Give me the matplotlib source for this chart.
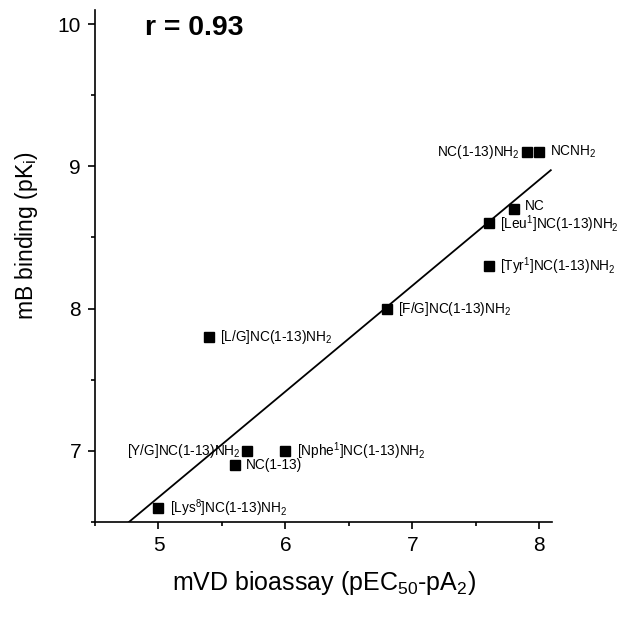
import numpy as np
import matplotlib
matplotlib.use('Agg')
from matplotlib import pyplot as plt
from matplotlib.ticker import MultipleLocator

plt.rcParams['font.family'] = ['Liberation Sans', 'DejaVu Sans']
plt.rcParams['mathtext.default'] = 'regular'

# 化合物名称和数据
names = ['NC(1-13)NH$_2$', 'NCNH$_2$', 'NC', '[Leu$^1$]NC(1-13)NH$_2$',
         '[Tyr$^1$]NC(1-13)NH$_2$', '[F/G]NC(1-13)NH$_2$', '[L/G]NC(1-13)NH$_2$',
         '[Y/G]NC(1-13)NH$_2$', '[Nphe$^1$]NC(1-13)NH$_2$', 'NC(1-13)',
         '[Lys$^8$]NC(1-13)NH$_2$']
mvd = [7.9, 8.0, 7.8, 7.6, 7.6, 6.8, 5.4, 5.7, 6.0, 5.6, 5.0]
mb = [9.1, 9.1, 8.7, 8.6, 8.3, 8.0, 7.8, 7.0, 7.0, 6.9, 6.6]
# 标签在点的左边还是右边
side = ['left', 'right', 'right', 'right', 'right', 'right', 'right',
        'left', 'right', 'right', 'right']

fig = plt.figure(figsize=(6.21, 6.17), dpi=100)
ax = fig.add_axes([0.153, 0.154, 0.736, 0.83])

ax.plot(mvd, mb, 's', color='black', markersize=7.8, zorder=3)

# 回归线
k, b = np.polyfit(mvd, mb, 1)
x0 = (6.5 - b) / k
xs = np.array([x0, 8.09])
ax.plot(xs, k * xs + b, color='black', lw=1.3)

for n, x, y, s in zip(names, mvd, mb, side):
    dy = 0
    if n == 'NC':
        dy = 2
    elif n.startswith('[Leu'):
        dy = -1
    if s == 'right':
        ax.annotate(n, (x, y), xytext=(8, dy), textcoords='offset points',
                    ha='left', va='center', fontsize=9.8)
    else:
        ax.annotate(n, (x, y), xytext=(-5, dy), textcoords='offset points',
                    ha='right', va='center', fontsize=9.8)

ax.text(0.109, 0.965, 'r = 0.93', transform=ax.transAxes, fontsize=20.5,
        fontweight='bold', ha='left', va='center')

ax.set_xlim(4.5, 8.1)
ax.set_ylim(6.5, 10.1)
ax.xaxis.set_major_locator(MultipleLocator(1))
ax.xaxis.set_minor_locator(MultipleLocator(0.5))
ax.yaxis.set_major_locator(MultipleLocator(1))
ax.yaxis.set_minor_locator(MultipleLocator(0.5))
ax.set_xticks([5, 6, 7, 8])
ax.set_yticks([7, 8, 9, 10])

for s in ['top', 'right']:
    ax.spines[s].set_visible(False)
for s in ['left', 'bottom']:
    ax.spines[s].set_linewidth(1.2)
ax.tick_params(which='major', direction='out', length=5, width=1.2, labelsize=15, pad=5)
ax.tick_params(which='minor', direction='out', length=3, width=1.2)

ax.set_xlabel('mVD bioassay (pEC$_{50}$-pA$_2$)', fontsize=18, labelpad=10)
ax.set_ylabel('mB binding (pK$_i$)', fontsize=16.5, labelpad=10)
ax.yaxis.set_label_coords(-0.12, 0.56)

fig.savefig('out.png', dpi=100)
